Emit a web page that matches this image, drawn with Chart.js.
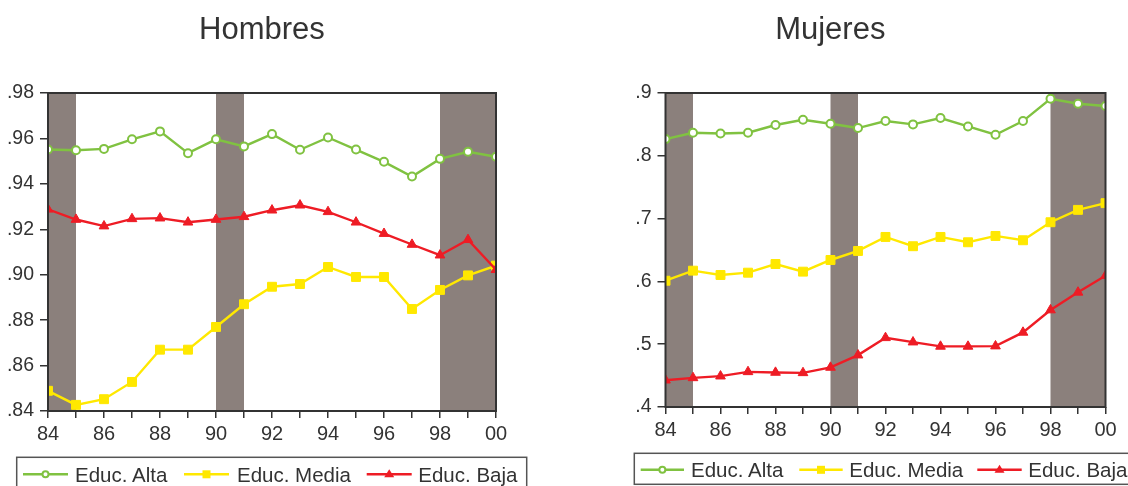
<!DOCTYPE html>
<html><head><meta charset="utf-8">
<script src="https://cdn.jsdelivr.net/npm/chart.js@4.4.0/dist/chart.umd.min.js"></script>
<style>
html,body{margin:0;padding:0;background:#fff;}
#wrap{position:relative;width:1128px;height:486px;overflow:hidden;background:#fff;}
canvas{position:absolute;top:0;}
#ov{position:absolute;left:0;top:0;}
</style></head><body>
<div id="wrap">
<canvas id="c1" width="560" height="486" style="left:0;width:560px;height:486px"></canvas>
<canvas id="c2" width="564" height="486" style="left:564px;width:564px;height:486px"></canvas>
<svg id="ov" width="1128" height="486" xmlns="http://www.w3.org/2000/svg"></svg>
</div>
<script>
// ---------- data ----------
const years = [1984,1985,1986,1987,1988,1989,1990,1991,1992,1993,1994,1995,1996,1997,1998,1999,2000];
const seriesNames = ['Educ. Alta','Educ. Media','Educ. Baja'];
const chartTitles = ['Hombres','Mujeres'];
const shadedPeriods = [[1984,1985],[1990,1991],[1998,2000]];

const hombresAlta  = [.9551,.9548,.9554,.9596,.9631,.9535,.9596,.9565,.9619,.9550,.9604,.9551,.9497,.9432,.9510,.9541,.9519];
const hombresMedia = [.8489,.8427,.8452,.8528,.8670,.8670,.8770,.8870,.8947,.8959,.9034,.8990,.8990,.8849,.8933,.8997,.9040];
const hombresBaja  = [.9288,.9243,.9214,.9246,.9249,.9231,.9243,.9255,.9284,.9306,.9277,.9231,.9181,.9133,.9086,.9154,.9022];

const mujeresAlta  = [.8266,.8367,.8356,.8367,.8490,.8574,.8510,.8442,.8553,.8500,.8601,.8467,.8335,.8553,.8909,.8829,.8793];
const mujeresMedia = [.6011,.6171,.6102,.6139,.6277,.6155,.6341,.6485,.6708,.6560,.6708,.6623,.6724,.6655,.6942,.7139,.7246];
const mujeresBaja  = [.4427,.4464,.4491,.4560,.4550,.4544,.4630,.4826,.5102,.5033,.4965,.4965,.4970,.5188,.5544,.5826,.6091];

const hombresYTicks = [.84,.86,.88,.90,.92,.94,.96,.98];
const mujeresYTicks = [.4,.5,.6,.7,.8,.9];

// ---------- style ----------
const FONT = '"Liberation Sans", Arial, Helvetica, sans-serif';
const TXT = '#333';
const GREEN = '#80c241', YELLOW = '#ffe800', RED = '#ee1c25', BAND = '#8b807c';
const colors = [GREEN, YELLOW, RED];

const framePlugin = {
  id: 'frame',
  beforeDatasetsDraw(chart) {
    const {ctx, chartArea: a, scales: {x}} = chart;
    ctx.save();
    ctx.fillStyle = BAND;
    shadedPeriods.forEach(([s, e]) => {
      const x0 = x.getPixelForValue(s), x1 = x.getPixelForValue(e);
      ctx.fillRect(x0, a.top, x1 - x0, a.bottom - a.top);
    });
    ctx.restore();
  },
  afterDatasetsDraw(chart) {
    const {ctx, chartArea: a} = chart;
    ctx.save();
    ctx.strokeStyle = '#333';
    ctx.lineWidth = 2;
    ctx.strokeRect(a.left, a.top, a.right - a.left, a.bottom - a.top);
    ctx.restore();
  }
};

function pts(vals) { return years.map((y, i) => ({x: y, y: vals[i]})); }

function makeChart(id, series, yTicks, decimals, padding) {
  const ds = [
    {label: seriesNames[0], data: pts(series[0]), borderColor: GREEN, backgroundColor: '#fff',
     pointStyle: 'circle', pointRadius: 4, pointBorderWidth: 2, pointBackgroundColor: '#fff', pointBorderColor: GREEN, order: 3},
    {label: seriesNames[1], data: pts(series[1]), borderColor: YELLOW, backgroundColor: YELLOW,
     pointStyle: 'rect', pointRadius: 6.3, pointBorderWidth: 1, pointBackgroundColor: YELLOW, pointBorderColor: YELLOW, order: 2},
    {label: seriesNames[2], data: pts(series[2]), borderColor: RED, backgroundColor: RED,
     pointStyle: 'triangle', pointRadius: 5.6, pointBorderWidth: 1, pointBackgroundColor: RED, pointBorderColor: RED, order: 1}
  ].map(d => Object.assign(d, {borderWidth: 2.4, tension: 0, clip: 0, pointHoverRadius: d.pointRadius}));

  return new Chart(document.getElementById(id), {
    type: 'line',
    data: {datasets: ds},
    options: {
      responsive: false, animation: false, devicePixelRatio: 1,
      layout: {padding},
      plugins: {legend: {display: false}, tooltip: {enabled: false}, title: {display: false}},
      scales: {
        x: {
          type: 'linear', min: years[0], max: years[years.length - 1],
          border: {display: false},
          grid: {drawOnChartArea: false, drawTicks: true, tickLength: 7, color: '#333', lineWidth: 1.5},
          ticks: {stepSize: 1, autoSkip: false, maxRotation: 0, padding: 4, color: TXT,
                  font: {family: FONT, size: 20},
                  callback: v => (v % 2 === 0 ? String(v).slice(2) : '')},
          afterFit: s => { s.height = 40; }
        },
        y: {
          type: 'linear', min: yTicks[0], max: yTicks[yTicks.length - 1],
          border: {display: false},
          grid: {drawOnChartArea: false, drawTicks: true, tickLength: 8, color: '#333', lineWidth: 1.5},
          afterBuildTicks: s => { s.ticks = yTicks.map(v => ({value: v})); },
          ticks: {padding: 6, color: TXT, font: {family: FONT, size: 19.5},
                  callback: v => Number(v).toFixed(decimals).replace(/^0/, '')},
          afterFit: s => { s.width = 48; }
        }
      }
    },
    plugins: [framePlugin]
  });
}

makeChart('c1', [hombresAlta, hombresMedia, hombresBaja], hombresYTicks, 2, {top: 93, left: 0, right: 64, bottom: 35});
makeChart('c2', [mujeresAlta, mujeresMedia, mujeresBaja], mujeresYTicks, 1, {top: 93, left: 53.5, right: 22.5, bottom: 39});

// ---------- titles and legends (SVG overlay) ----------
const NS = 'http://www.w3.org/2000/svg';
const svg = document.getElementById('ov');
function el(tag, attrs, text) {
  const e = document.createElementNS(NS, tag);
  for (const k in attrs) e.setAttribute(k, attrs[k]);
  if (text !== undefined) e.textContent = text;
  svg.appendChild(e);
  return e;
}
const titlePos = [262, 830.3];
chartTitles.forEach((t, i) => el('text', {x: titlePos[i], y: 39.3, 'text-anchor': 'middle',
  'font-family': FONT, 'font-size': 31, fill: TXT}, t));

function legend(box, lx0, lx1, tx, lineY, baseY) {
  el('rect', {x: box[0], y: box[1], width: box[2], height: box[3], fill: '#fff', stroke: '#555', 'stroke-width': 1.5});
  seriesNames.forEach((n, i) => {
    el('line', {x1: lx0[i], x2: lx1[i], y1: lineY, y2: lineY, stroke: colors[i], 'stroke-width': 2.4});
    const cx = (lx0[i] + lx1[i]) / 2;
    if (i === 0) el('circle', {cx, cy: lineY, r: 3, fill: '#fff', stroke: GREEN, 'stroke-width': 2});
    if (i === 1) el('rect', {x: cx - 4, y: lineY - 4, width: 8, height: 8, fill: YELLOW});
    if (i === 2) el('polygon', {points: `${cx},${lineY - 5} ${cx + 5},${lineY + 3} ${cx - 5},${lineY + 3}`, fill: RED});
    el('text', {x: tx[i], y: baseY, 'font-family': FONT, 'font-size': 20.5, fill: TXT}, n);
  });
}
legend([16.7, 457.3, 510, 31], [23, 184, 366.7], [68, 229, 411.7], [75, 237, 418.3], 474.3, 481.7);
legend([634.3, 453.3, 520, 31], [640.7, 799.3, 977.3], [684, 842.7, 1021.7], [691, 849.3, 1028.3], 469.8, 476.8);
</script>
</body></html>
